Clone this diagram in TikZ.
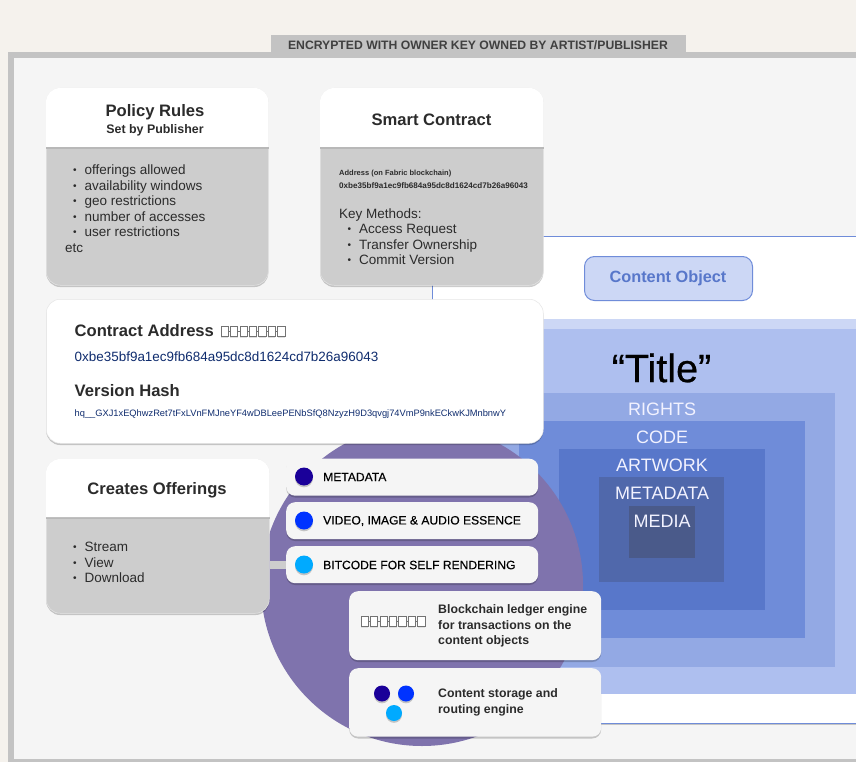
\documentclass[tikz,border=0pt]{standalone}
\usepackage{fontspec}
\setmainfont{Liberation Sans}
\usetikzlibrary{shadows}
\definecolor{paper}{HTML}{F5F2ED}
\definecolor{frame}{HTML}{C3C3C3}
\definecolor{panel}{HTML}{F5F5F5}
\definecolor{cardbody}{HTML}{CDCDCD}
\definecolor{ink}{HTML}{2B2B2B}
\definecolor{navy}{HTML}{0F2C6E}
\definecolor{purple}{HTML}{7F73AD}
\definecolor{bluelink}{HTML}{6F8CD9}
\definecolor{layerA}{HTML}{CCD7F5}
\definecolor{layerB}{HTML}{AEBFEF}
\definecolor{layerC}{HTML}{93A9E4}
\definecolor{layerD}{HTML}{6F8CD9}
\definecolor{layerE}{HTML}{5877CA}
\definecolor{layerF}{HTML}{5068AB}
\definecolor{layerG}{HTML}{4A5A8A}
\definecolor{dotA}{HTML}{1A0099}
\definecolor{dotB}{HTML}{0033FF}
\definecolor{dotC}{HTML}{00AAFF}
\newcommand{\bul}{\makebox[11.5pt][l]{\raisebox{1pt}{\scalebox{.75}{•}}}}
\begin{document}
\begin{tikzpicture}[x=1pt,y=-1pt]

    \tikzset{
      softshadow/.style={
        drop shadow={shadow xshift=0pt,shadow yshift=-1.8pt,opacity=0.2,fill=black},
      },
      card/.style={
        softshadow,
        draw=black!10,
        line width=0.5,
        rounded corners=14pt,
        inner sep=0pt,
        anchor=north west,
      },
      pill/.style={
        softshadow,
        fill=panel,
        rounded corners=9pt,
        inner sep=0pt,
        anchor=north west,
      },
      layer/.style={
        inner sep=0pt,
        anchor=north west,
      },
      layertext/.style={
        text=white!95!blue,
        inner sep=0pt,
        font=\fontsize{18}{20}\selectfont,
      },
      heading/.style={
        text=ink,
        inner sep=0pt,
        align=center,
        font=\bfseries\fontsize{16.6}{18}\selectfont,
      },
      listtext/.style={
        text=ink,
        inner sep=0pt,
        anchor=north west,
        align=left,
        font=\fontsize{13.5}{15.5}\selectfont,
      },
      pilltext/.style={
        text=black,
        inner sep=0pt,
        anchor=west,
        align=left,
        font=\addfontfeature{FakeBold=0.3}\fontsize{12.1}{15.5}\selectfont,
      },
      enginetext/.style={
        pilltext,
        text=ink,
        font=\bfseries\fontsize{12.3}{15.5}\selectfont,
      },
      dot/.style={
        softshadow,
        circle,
        inner sep=0pt,
        minimum size=18pt,
      },
      smalldot/.style={
        dot,
        minimum size=16pt,
      },
      chain/.pic={
        \foreach \i in {0,...,6} {
          \fill[black!12] (\i*9.45,-4) rectangle ++(7.2,11);
        }
        \foreach \i in {0,...,6} {
          \draw[black!55,fill=white,line width=0.7] (\i*9.45,-5) rectangle ++(7.2,10);
        }
        \foreach \i in {0,...,5} {
          \draw[black!55,line width=0.7] (\i*9.45+7.2,0) -- ++(2.25,0);
        }
      },
    }
    \clip (0,0) rectangle (856,762);

    % backdrop
    \fill[paper] (0,0) rectangle (856,762);
    \fill[frame] (8,52) rectangle (856,762);
    \node[fill=frame,inner sep=0pt,anchor=north west,minimum width=415pt,minimum height=18pt] (tab) at (271,35) {};
    \node[inner sep=0pt,text=ink!90,font=\bfseries\fontsize{12.2}{13}\selectfont] (tablabel) at (478,45.5) {ENCRYPTED WITH OWNER KEY OWNED BY ARTIST/PUBLISHER};
    \fill[panel] (13.5,58) rectangle (856,759);

    % content object
    \node[layer,fill=white,softshadow,draw=bluelink,line width=1,minimum width=470pt,minimum height=487pt] (object) at (431.5,236) {};
    \node[layer,fill=layerA,minimum width=420pt,minimum height=375pt] (layerone) at (436,319) {};
    \node[layer,fill=layerB,minimum width=420pt,minimum height=365pt] (layertwo) at (436,329) {};
    \node[layer,fill=layerC,minimum width=346pt,minimum height=274pt] (rights) at (489,393) {};
    \node[layer,fill=layerD,minimum width=286pt,minimum height=217pt] (code) at (519,421) {};
    \node[layer,fill=layerE,minimum width=206pt,minimum height=161pt] (artwork) at (559,449) {};
    \node[layer,fill=layerF,minimum width=125pt,minimum height=105pt] (metadata) at (599,477) {};
    \node[layer,fill=layerG,minimum width=66pt,minimum height=52pt] (media) at (629,506) {};
    \node[inner sep=0pt,text=black,font=\addfontfeature{FakeBold=0.6}\fontsize{39.5}{42}\selectfont] (title) at (661.5,368) {“Title”};
    \node[layertext] (rightslabel) at (662,409) {RIGHTS};
    \node[layertext] (codelabel) at (662,437) {CODE};
    \node[layertext] (artworklabel) at (662,465) {ARTWORK};
    \node[layertext] (metadatalabel) at (662,493) {METADATA};
    \node[layertext] (medialabel) at (662,521) {MEDIA};
    \node[layer,fill=layerA,draw=bluelink,line width=1,rounded corners=10pt,minimum width=168pt,minimum height=44pt] (objectbutton) at (584,256) {};
    \node[inner sep=0pt,text=layerE,font=\bfseries\fontsize{16.3}{18}\selectfont] (objectlabel) at (668,278.5) {Content Object};

    % engine
    \node[circle,fill=purple,inner sep=0pt,minimum size=322pt] (engine) at (422,585) {};

    % cards
    \node[card,fill=cardbody,minimum width=222pt,minimum height=197pt] (policy) at (46,88) {};
    \node[card,fill=cardbody,minimum width=223pt,minimum height=197pt] (smart) at (320,88) {};
    \node[card,fill=cardbody,minimum width=223pt,minimum height=154pt] (offerings) at (46,459) {};
    \foreach \card/\head in {policy/59,smart/59,offerings/58} {
      \fill[black!28] ([yshift=-\head pt]\card.north west) rectangle ([yshift=-\head pt-2pt]\card.north east);
      \fill[white] ([yshift=-\head pt]\card.north west) [rounded corners=14pt] -- (\card.north west) -- (\card.north east) [sharp corners] -- ([yshift=-\head pt]\card.north east) -- cycle;
    }
    \node[heading] (policyhead) at (155,120) {Policy Rules\\[-1pt]{\fontsize{12.4}{14}\selectfont Set by Publisher}};
    \node[listtext] (policylist) at (65,165) {\hspace*{8pt}\bul offerings allowed\\\hspace*{8pt}\bul availability windows\\\hspace*{8pt}\bul geo restrictions\\\hspace*{8pt}\bul number of accesses\\\hspace*{8pt}\bul user restrictions\\etc};
    \node[heading] (smarthead) at (431.5,120) {Smart Contract};
    \node[listtext,font=\bfseries\fontsize{7.5}{12.4}\selectfont] (smartaddress) at (339,170) {Address (on Fabric blockchain)\\{\fontsize{8.1}{12.4}\selectfont 0xbe35bf9a1ec9fb684a95dc8d1624cd7b26a96043}};
    \node[listtext] (smartlist) at (339,208.5) {Key Methods:\\\hspace*{8.5pt}\bul Access Request\\\hspace*{8.5pt}\bul Transfer Ownership\\\hspace*{8.5pt}\bul Commit Version};
    \node[heading] (offeringshead) at (157,490) {Creates Offerings};
    \node[listtext] (offeringslist) at (73,542) {\bul Stream\\\bul View\\\bul Download};

    % address card
    \node[card,fill=white,minimum width=497pt,minimum height=144pt] (address) at (46,299) {};
    \node[heading,anchor=west] (addresshead) at (74.5,331) {Contract Address};
    \pic at (221,331) {chain};
    \node[inner sep=0pt,anchor=west,text=navy,font=\fontsize{13.45}{15}\selectfont] (addressvalue) at (74.5,357) {0xbe35bf9a1ec9fb684a95dc8d1624cd7b26a96043};
    \node[heading,anchor=west] (hashhead) at (74.5,391) {Version Hash};
    \node[inner sep=0pt,anchor=west,text=navy,font=\fontsize{9.3}{10}\selectfont] (hashvalue) at (74.5,414) {hq\_\_GXJ1xEQhwzRet7tFxLVnFMJneYF4wDBLeePENbSfQ8NzyzH9D3qvgj74VmP9nkECkwKJMnbnwY};

    % pills
    \node[pill,minimum width=252pt,minimum height=37pt] (metadatapill) at (286,458.5) {};
    \node[pill,minimum width=252pt,minimum height=37pt] (essencepill) at (286,502) {};
    \node[pill,minimum width=252pt,minimum height=37pt] (bitcodepill) at (286,546) {};
    \draw[cardbody,line width=8] (offerings.east |- bitcodepill) -- (bitcodepill.west);
    \node[dot,fill=dotA] (metadatadot) at (304,476.5) {};
    \node[dot,fill=dotB] (essencedot) at (304,520.5) {};
    \node[dot,fill=dotC] (bitcodedot) at (304,564.5) {};
    \node[pilltext] (metadatatext) at (323,477) {METADATA};
    \node[pilltext] (essencetext) at (323,521) {VIDEO, IMAGE \& AUDIO ESSENCE};
    \node[pilltext] (bitcodetext) at (323,565) {BITCODE FOR SELF RENDERING};

    \node[pill,minimum width=252pt,minimum height=69pt] (ledgerpill) at (349,591) {};
    \pic at (361,621) {chain};
    \node[enginetext] (ledgertext) at (438,626) {Blockchain ledger engine\\for transactions on the\\content objects};
    \node[pill,minimum width=252pt,minimum height=68.5pt] (storagepill) at (349,668) {};
    \node[smalldot,fill=dotA] (storagedota) at (382,693.5) {};
    \node[smalldot,fill=dotB] (storagedotb) at (406,693.5) {};
    \node[smalldot,fill=dotC] (storagedotc) at (394,713) {};
    \node[enginetext] (storagetext) at (438,702.5) {Content storage and\\routing engine};

\end{tikzpicture}
\end{document}
